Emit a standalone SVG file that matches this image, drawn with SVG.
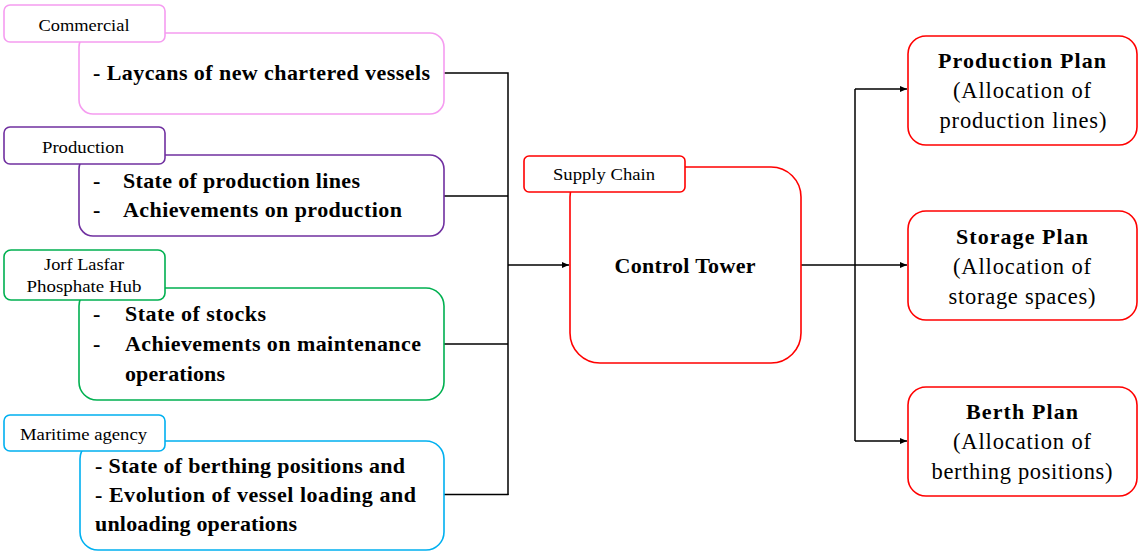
<svg xmlns="http://www.w3.org/2000/svg" width="1139" height="552" viewBox="0 0 1139 552">
<defs>
<marker id="arr" markerWidth="8" markerHeight="8" refX="7" refY="4" orient="auto" markerUnits="userSpaceOnUse">
<path d="M0,1 L7,4 L0,7 Z" fill="#000"/>
</marker>
<style>
.lbl{fill:#fff;stroke-width:1.6}
.box{fill:#fff;stroke-width:1.6}
.c{stroke:#000;stroke-width:1.5;fill:none}
text{font-family:'Liberation Serif','Times New Roman',serif;fill:#000}
.s{font-size:16px}
.b{font-size:22px;font-weight:bold}
.r{font-size:22.5px}
.m{text-anchor:middle}
</style>
</defs>
<rect width="1139" height="552" fill="#fff"/>
<g id="connectors">
<path class="c" d="M444,73 H508 V495"/>
<path class="c" d="M444,196 H508"/>
<path class="c" d="M444,344 H508"/>
<path class="c" d="M444,494.5 H508.5" stroke-width="2.2"/>
<path class="c" d="M508,265 H569" marker-end="url(#arr)"/>
<path class="c" d="M801,265 H855"/>
<path class="c" d="M855,89 V441"/>
<path class="c" d="M855,89 H907" marker-end="url(#arr)"/>
<path class="c" d="M855,265 H907" marker-end="url(#arr)"/>
<path class="c" d="M855,441 H907" marker-end="url(#arr)"/>
</g>
<g id="commercial">
<rect class="box" x="79" y="33" width="365" height="81" rx="14" stroke="#F59CF0"/>
<rect class="lbl" x="4" y="5" width="161" height="37" rx="6" stroke="#F59CF0"/>
<text class="s m" x="84" y="31" textLength="91" lengthAdjust="spacingAndGlyphs">Commercial</text>
<text class="b" x="93" y="80" textLength="337" lengthAdjust="spacing">- Laycans of new chartered vessels</text>
</g>
<g id="production">
<rect class="box" x="79" y="155" width="365" height="81" rx="14" stroke="#7030A0"/>
<rect class="lbl" x="4" y="127" width="161" height="37" rx="6" stroke="#7030A0"/>
<text class="s m" x="83" y="153" textLength="82" lengthAdjust="spacingAndGlyphs">Production</text>
<text class="b" x="93" y="188">-</text>
<text class="b" x="123" y="188" textLength="237" lengthAdjust="spacing">State of production lines</text>
<text class="b" x="93" y="217">-</text>
<text class="b" x="123" y="217" textLength="279" lengthAdjust="spacing">Achievements on production</text>
</g>
<g id="jorf-lasfar">
<rect class="box" x="79" y="288" width="365" height="112" rx="18" stroke="#00B050"/>
<rect class="lbl" x="4" y="250" width="161" height="50" rx="7" stroke="#00B050"/>
<text class="s m" x="84" y="270" textLength="80" lengthAdjust="spacingAndGlyphs">Jorf Lasfar</text>
<text class="s m" x="84" y="292" textLength="115" lengthAdjust="spacingAndGlyphs">Phosphate Hub</text>
<text class="b" x="93" y="321">-</text>
<text class="b" x="125" y="321" textLength="141" lengthAdjust="spacing">State of stocks</text>
<text class="b" x="93" y="351">-</text>
<text class="b" x="125" y="351" textLength="296" lengthAdjust="spacing">Achievements on maintenance</text>
<text class="b" x="125" y="381" textLength="100" lengthAdjust="spacing">operations</text>
</g>
<g id="maritime">
<rect class="box" x="80" y="441" width="364" height="109" rx="18" stroke="#00B0F0"/>
<rect class="lbl" x="4" y="415" width="161" height="36" rx="6" stroke="#00B0F0"/>
<text class="s" x="20" y="440" textLength="127" lengthAdjust="spacingAndGlyphs">Maritime agency</text>
<text class="b" x="95" y="473" textLength="310" lengthAdjust="spacing">- State of berthing positions and</text>
<text class="b" x="95" y="502" textLength="321" lengthAdjust="spacing">- Evolution of vessel loading and</text>
<text class="b" x="95" y="531" textLength="202" lengthAdjust="spacing">unloading operations</text>
</g>
<g id="control-tower">
<rect class="box" x="570" y="167" width="231" height="196" rx="30" stroke="#FF0000"/>
<rect class="lbl" x="524" y="156" width="161" height="36" rx="5" stroke="#FF0000"/>
<text class="s m" x="604" y="180" textLength="102" lengthAdjust="spacingAndGlyphs">Supply Chain</text>
<text class="b m" x="685" y="273" textLength="141" lengthAdjust="spacing">Control Tower</text>
</g>
<g id="production-plan">
<rect class="box" x="908" y="36" width="229" height="109" rx="18" stroke="#FF0000"/>
<text class="b m" x="1022" y="68" textLength="168" lengthAdjust="spacing">Production Plan</text>
<text class="r m" x="1022" y="98" textLength="138" lengthAdjust="spacing">(Allocation of</text>
<text class="r m" x="1023" y="128" textLength="167" lengthAdjust="spacing">production lines)</text>
</g>
<g id="storage-plan">
<rect class="box" x="908" y="211" width="229" height="109" rx="18" stroke="#FF0000"/>
<text class="b m" x="1022" y="244" textLength="132" lengthAdjust="spacing">Storage Plan</text>
<text class="r m" x="1022" y="274" textLength="138" lengthAdjust="spacing">(Allocation of</text>
<text class="r m" x="1022" y="304" textLength="147" lengthAdjust="spacing">storage spaces)</text>
</g>
<g id="berth-plan">
<rect class="box" x="908" y="387" width="229" height="109" rx="18" stroke="#FF0000"/>
<text class="b m" x="1022" y="419" textLength="112" lengthAdjust="spacing">Berth Plan</text>
<text class="r m" x="1022" y="449" textLength="138" lengthAdjust="spacing">(Allocation of</text>
<text class="r m" x="1022" y="479" textLength="181" lengthAdjust="spacing">berthing positions)</text>
</g>
</svg>
